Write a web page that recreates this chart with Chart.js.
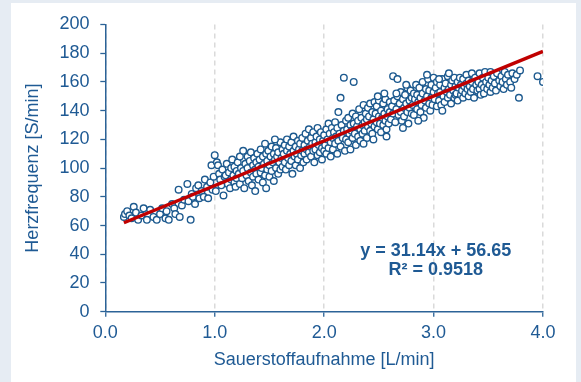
<!DOCTYPE html>
<html>
<head>
<meta charset="utf-8">
<script src="https://cdn.jsdelivr.net/npm/chart.js@4/dist/chart.umd.min.js"></script>
<style>
  html, body { margin: 0; padding: 0; background: #e6ecf3; width: 581px; height: 382px; overflow: hidden; }
  #panel { position: absolute; left: 11px; top: 3px; width: 565px; height: 379px; background: #ffffff; }
  canvas { display: block; }
</style>
</head>
<body>
<div id="panel"><canvas id="c" width="565" height="379"></canvas></div>
<script>
// Oxygen uptake [L/min] vs heart rate [S/min]
const samples = [
  [0.17,66],[0.18,68],[0.20,70],[0.22,67],[0.24,65],[0.26,73],[0.28,69],[0.30,64],[0.33,67],[0.35,72],[0.38,64],[0.41,71],[0.44,66],[0.47,64],
  [0.50,68],[0.52,72],[0.55,65],[0.56,70],[0.58,64],[0.61,75],[0.63,72],[0.64,68],[0.67,85],[0.68,66],[0.70,74],[0.72,78],[0.75,89],[0.76,77],
  [0.78,64],[0.79,82],[0.80,80],[0.82,75],[0.83,86],[0.85,88],[0.86,79],[0.88,84],[0.90,80],[0.91,92],[0.93,87],[0.94,79],[0.96,90],[0.97,102],[0.98,85],[0.99,94],
  [1.00,109],[1.01,84],[1.02,104],[1.03,102],[1.04,96],[1.05,92],[1.06,88],[1.07,99],[1.08,81],[1.09,94],[1.10,95],[1.11,103],[1.12,89],[1.13,97],[1.14,86],[1.15,100],[1.15,92],[1.16,106],[1.17,95],[1.18,90],[1.18,101],[1.19,87],[1.20,98],[1.20,93],
  [1.21,104],[1.22,96],[1.23,89],[1.23,108],[1.24,100],[1.25,93],[1.26,112],[1.26,98],[1.27,86],[1.28,103],[1.29,95],[1.30,108],[1.30,100],[1.31,91],[1.32,105],[1.33,97],[1.33,111],[1.34,88],[1.35,102],[1.35,94],[1.36,107],[1.37,99],[1.37,84],[1.38,104],[1.38,96],[1.39,110],[1.40,101],[1.40,92],
  [1.41,106],[1.42,97],[1.42,113],[1.43,100],[1.44,90],[1.44,108],[1.45,103],[1.46,95],[1.46,117],[1.47,110],[1.48,99],[1.48,105],[1.49,112],[1.50,94],[1.50,102],[1.51,108],[1.52,115],[1.52,98],[1.53,104],[1.54,110],[1.54,91],[1.55,106],[1.56,100],[1.56,114],[1.57,108],[1.58,96],[1.58,111],[1.59,104],[1.60,118],[1.60,99],[1.47,86],[1.55,120],
  [1.61,107],[1.62,113],[1.62,101],[1.63,110],[1.64,116],[1.64,104],[1.65,99],[1.66,112],[1.66,120],[1.67,107],[1.68,102],[1.68,115],[1.69,110],[1.70,118],[1.70,105],[1.71,96],[1.72,112],[1.72,122],[1.73,108],[1.74,115],[1.74,102],[1.75,110],[1.76,119],[1.76,106],[1.77,113],[1.78,100],[1.78,117],[1.79,109],[1.80,121],[1.80,112],
  [1.81,104],[1.82,116],[1.82,110],[1.83,124],[1.84,113],[1.84,106],[1.85,119],[1.86,111],[1.86,127],[1.87,115],[1.88,108],[1.88,121],[1.89,117],[1.90,112],[1.90,125],[1.91,104],[1.92,118],[1.92,113],[1.93,122],[1.94,109],[1.94,128],[1.95,116],[1.96,120],[1.96,111],[1.97,125],[1.98,114],[1.98,106],[1.99,119],[2.00,123],[2.00,112],
  [2.01,116],[2.02,127],[2.02,110],[2.03,120],[2.04,131],[2.04,114],[2.05,124],[2.06,118],[2.06,108],[2.07,128],[2.08,121],[2.08,113],[2.09,125],[2.10,117],[2.10,132],[2.11,122],[2.12,110],[2.12,128],[2.13,139],[2.13,119],[2.14,124],[2.15,149],[2.15,115],[2.16,130],[2.17,121],[2.18,163],[2.18,126],[2.19,112],[2.20,133],[2.20,120],
  [2.21,127],[2.22,118],[2.22,135],[2.23,124],[2.24,130],[2.24,113],[2.25,126],[2.26,138],[2.26,121],[2.27,160],[2.27,131],[2.28,124],[2.29,116],[2.29,136],[2.30,129],[2.31,133],[2.31,122],[2.32,141],[2.33,127],[2.33,119],[2.34,135],[2.35,130],[2.35,124],[2.36,144],[2.37,132],[2.37,126],[2.38,138],[2.39,121],[2.39,134],[2.40,142],[2.40,129],[2.36,117],
  [2.41,136],[2.42,126],[2.42,145],[2.43,131],[2.44,139],[2.44,124],[2.45,134],[2.46,146],[2.46,129],[2.47,138],[2.48,132],[2.48,143],[2.49,127],[2.50,136],[2.50,147],[2.51,131],[2.52,140],[2.52,125],[2.53,135],[2.54,145],[2.54,130],[2.55,138],[2.56,133],[2.56,148],[2.57,127],[2.58,141],[2.58,136],[2.59,131],[2.60,146],[2.60,139],[2.45,120],[2.55,152],[2.57,122],[2.49,150],
  [2.61,134],[2.62,143],[2.63,164],[2.63,138],[2.64,147],[2.65,132],[2.66,141],[2.67,162],[2.67,150],[2.68,137],[2.69,145],[2.70,139],[2.70,153],[2.71,133],[2.72,148],[2.73,142],[2.73,136],[2.74,151],[2.75,145],[2.76,139],[2.76,156],[2.77,131],[2.78,147],[2.78,142],[2.79,154],[2.80,138],[2.80,149],[2.72,128],[2.66,152],[2.75,158],
  [2.81,144],[2.82,152],[2.82,137],[2.83,148],[2.84,158],[2.85,141],[2.85,151],[2.86,146],[2.87,156],[2.88,139],[2.88,149],[2.89,144],[2.90,160],[2.90,152],[2.91,135],[2.92,147],[2.93,155],[2.93,142],[2.94,150],[2.95,162],[2.96,145],[2.96,154],[2.97,140],[2.98,158],[2.98,149],[2.99,144],[3.00,163],[3.00,153],[2.86,133],[2.94,165],
  [3.01,148],[3.02,156],[3.03,143],[3.03,160],[3.04,152],[3.05,147],[3.06,158],[3.06,153],[3.07,144],[3.08,162],[3.09,150],[3.10,156],[3.10,146],[3.11,159],[3.12,153],[3.13,149],[3.13,164],[3.14,155],[3.15,151],[3.16,158],[3.16,145],[3.17,161],[3.18,154],[3.19,149],[3.19,163],[3.20,157],[3.20,151],[3.08,140],[3.14,166],[3.05,162],
  [3.21,152],[3.22,160],[3.22,147],[3.23,156],[3.24,163],[3.25,151],[3.25,158],[3.26,154],[3.27,149],[3.27,162],[3.28,157],[3.29,152],[3.30,165],[3.30,159],[3.31,155],[3.32,150],[3.32,161],[3.33,157],[3.34,153],[3.35,166],[3.35,160],[3.36,155],[3.37,149],[3.38,163],[3.39,158],[3.40,154],
  [3.41,160],[3.42,155],[3.42,166],[3.43,151],[3.44,158],[3.45,163],[3.46,156],[3.46,152],[3.47,167],[3.48,160],[3.49,155],[3.50,163],[3.51,158],[3.52,153],[3.52,167],[3.53,161],[3.54,156],[3.55,164],[3.56,159],[3.57,154],[3.58,166],[3.60,161],
  [3.61,157],[3.62,164],[3.63,160],[3.64,155],[3.65,167],[3.66,162],[3.67,158],[3.68,165],[3.70,160],[3.71,156],[3.72,166],[3.74,162],[3.76,165],[3.78,149],
  [3.79,168],[3.95,164],[4.00,160]
];

// Linear trend line shown in the chart
const trendSlope = 31.14;
const trendIntercept = 56.65;
const trendRange = [0.17, 4.0];

// Axis settings
const xTicks = [0, 1, 2, 3, 4];
const yTicks = [0, 20, 40, 60, 80, 100, 120, 140, 160, 180, 200];
const xTitle = 'Sauerstoffaufnahme [L/min]';
const yTitle = 'Herzfrequenz [S/min]';
const equationLines = ['y = 31.14x + 56.65', 'R\u00b2 = 0.9518'];

const TEXT = '#1f5a94';
const AXIS = '#2c6397';
const POINT = '#1d5a8f';
const FONT = '"Liberation Sans", Arial, sans-serif';

const scatterData = samples.map(p => ({ x: p[0], y: p[1] }));
const trendData = trendRange.map(x => ({ x: x, y: trendSlope * x + trendIntercept }));

const equationPlugin = {
  id: 'equation',
  afterDatasetsDraw(chart) {
    const ctx = chart.ctx;
    const xs = chart.scales.x, ys = chart.scales.y;
    const cx = xs.getPixelForValue(3.02);
    const yPos = [42.4, 29.3];
    ctx.save();
    ctx.fillStyle = TEXT;
    ctx.font = 'bold 18px ' + FONT;
    ctx.textAlign = 'center';
    ctx.textBaseline = 'middle';
    equationLines.forEach((t, i) => ctx.fillText(t, cx, ys.getPixelForValue(yPos[i])));
    ctx.restore();
  }
};

new Chart(document.getElementById('c'), {
  type: 'scatter',
  data: {
    datasets: [
      {
        type: 'line',
        data: trendData,
        borderColor: '#c00000',
        borderWidth: 3.5,
        pointRadius: 0,
        fill: false,
        order: 0
      },
      {
        type: 'scatter',
        data: scatterData,
        pointRadius: 3.3,
        pointBorderWidth: 1.4,
        borderColor: POINT,
        backgroundColor: '#ffffff',
        order: 1
      }
    ]
  },
  options: {
    responsive: false,
    animation: false,
    events: [],
    layout: { padding: { top: 17, right: 33, bottom: 0, left: 0 } },
    plugins: { legend: { display: false }, tooltip: { enabled: false } },
    scales: {
      x: {
        type: 'linear',
        min: 0, max: 4,
        afterBuildTicks(scale) { scale.ticks = xTicks.map(v => ({ value: v })); },
        afterFit(scale) { scale.height = 70.3; },
        ticks: {
          color: TEXT,
          font: { family: FONT, size: 18 },
          padding: 6,
          callback: v => Number(v).toFixed(1)
        },
        grid: {
          drawOnChartArea: true,
          color: '#dadada',
          lineWidth: 1.5,
          borderDash: [5, 4],
          tickBorderDash: [],
          tickColor: AXIS,
          tickLength: 5,
          tickWidth: 1.3
        },
        border: { color: AXIS, width: 1.5, dash: [5, 4] },
        title: {
          display: true,
          text: xTitle,
          color: TEXT,
          font: { family: FONT, size: 18 },
          padding: { top: 0, bottom: 10.9 }
        }
      },
      y: {
        type: 'linear',
        min: 0, max: 200,
        afterBuildTicks(scale) { scale.ticks = yTicks.map(v => ({ value: v })); },
        afterFit(scale) { scale.width = 94.3; },
        ticks: {
          color: TEXT,
          font: { family: FONT, size: 18 },
          padding: 10.7
        },
        grid: {
          drawOnChartArea: false,
          color: AXIS,
          tickColor: AXIS,
          tickLength: 5,
          tickWidth: 1.3
        },
        border: { color: AXIS, width: 1.5 },
        title: {
          display: true,
          text: yTitle,
          color: TEXT,
          font: { family: FONT, size: 18 },
          padding: { top: 11, bottom: 0 }
        }
      }
    }
  },
  plugins: [equationPlugin]
});
</script>
</body>
</html>
